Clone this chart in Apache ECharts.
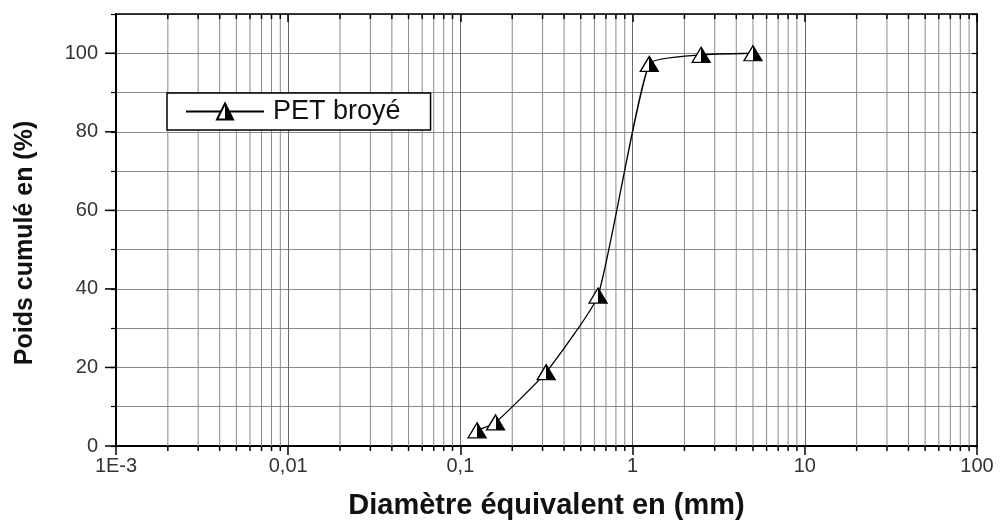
<!DOCTYPE html>
<html>
<head>
<meta charset="utf-8">
<script src="https://cdn.jsdelivr.net/npm/echarts@6/dist/echarts.min.js"></script>
<style>html,body{margin:0;padding:0;background:#fff;}#c{width:1000px;height:520px;}</style>
</head>
<body>
<div id="c"></div>
<script>
// ---- data ----
const seriesName = 'PET broyé';
const diameters = [0.125, 0.16, 0.315, 0.63, 1.25, 2.5, 5];
const cumulative = [4, 6, 18.8, 38.3, 97.3, 99.6, 100];
const xTickLabels = ['1E-3', '0,01', '0,1', '1', '10', '100'];
const decades = [0.001, 0.01, 0.1, 1, 10];
const minorMultipliers = [2, 3, 4, 5, 6, 7, 8, 9];
const yMajorTicks = [0, 20, 40, 60, 80, 100];
const xTitle = 'Diamètre équivalent en (mm)';
const yTitle = 'Poids cumulé en (%)';

const minorX = [];
decades.forEach(d => minorMultipliers.forEach(m => minorX.push([d * m, 0])));
const yMajorData = yMajorTicks.map(v => [0.001, v]);
const points = diameters.map((d, i) => [d, cumulative[i]]);

const FONT = 'Liberation Sans, Arial, sans-serif';
const chart = echarts.init(document.getElementById('c'), null, {renderer: 'canvas'});

const halfFill = new echarts.graphic.LinearGradient(0, 0, 1, 0, [
  {offset: 0, color: '#ffffff'}, {offset: 0.5, color: '#ffffff'},
  {offset: 0.5, color: '#000000'}, {offset: 1, color: '#000000'}
]);

chart.setOption({
  animation: false,
  backgroundColor: '#ffffff',
  grid: {left: 116, right: 23, top: 14, bottom: 74, containLabel: false, outerBoundsMode: 'none'},
  legend: {
    data: [seriesName],
    left: 167, top: 93,
    orient: 'horizontal',
    backgroundColor: '#ffffff',
    borderColor: '#000',
    borderWidth: 1.5,
    borderRadius: 0,
    padding: [5, 30, 5, 18],
    itemWidth: 78,
    itemHeight: 20,
    textStyle: {fontFamily: FONT, fontSize: 27, color: '#111', padding: [0, 0, 0, 4]}
  },
  xAxis: [{
    type: 'log', logBase: 10, min: 0.001, max: 100, position: 'bottom',
    axisLine: {show: true, onZero: false, lineStyle: {color: '#000', width: 2}},
    axisTick: {show: true, inside: false, length: 9, lineStyle: {color: '#000', width: 1.5}},
    axisLabel: {
      fontFamily: FONT, fontSize: 20, color: '#333', margin: 10,
      formatter: v => { const e = Math.round(Math.log10(v)); return xTickLabels[e + 3] || ''; }
    },
    splitLine: {show: true, lineStyle: {color: '#6a6a6a', width: 1}},
    name: xTitle, nameLocation: 'middle', nameGap: 45,
    nameTextStyle: {fontFamily: FONT, fontSize: 29, fontWeight: 'bold', color: '#111'}
  }, {
    type: 'log', logBase: 10, min: 0.001, max: 100, position: 'top',
    axisLine: {show: true, onZero: false, lineStyle: {color: '#000', width: 1.5}},
    axisTick: {show: true, inside: true, length: 8, lineStyle: {color: '#000', width: 1.5}},
    axisLabel: {show: false},
    splitLine: {show: false}
  }],
  yAxis: [{
    type: 'value', min: 0, max: 110, interval: 10, position: 'left',
    axisLine: {show: true, onZero: false, lineStyle: {color: '#000', width: 2}},
    axisTick: {show: true, inside: false, length: 5, lineStyle: {color: '#000', width: 1.2}},
    axisLabel: {
      fontFamily: FONT, fontSize: 20, color: '#333', margin: 18,
      formatter: v => (yMajorTicks.indexOf(v) >= 0 ? String(v) : '')
    },
    splitLine: {show: true, lineStyle: {color: '#8a8a8a', width: 1}},
    name: yTitle, nameLocation: 'middle', nameGap: 78, nameRotate: 90,
    nameTextStyle: {fontFamily: FONT, fontSize: 25, fontWeight: 'bold', color: '#111', padding: [0, 26, 0, 0]}
  }, {
    type: 'value', min: 0, max: 110, interval: 10, position: 'right',
    axisLine: {show: true, onZero: false, lineStyle: {color: '#000', width: 1.5}},
    axisTick: {show: true, inside: true, length: 5, lineStyle: {color: '#000', width: 1.2}},
    axisLabel: {show: false},
    splitLine: {show: false}
  }],
  series: [{
    name: 'xminor', type: 'custom', xAxisIndex: 0, yAxisIndex: 0, silent: true, z: 1,
    data: minorX,
    renderItem: function (params, api) {
      const v = api.value(0);
      const p0 = api.coord([v, 0]);
      const p1 = api.coord([v, 110]);
      return {type: 'group', children: [
        {type: 'line', shape: {x1: p0[0], y1: p0[1], x2: p1[0], y2: p1[1]}, style: {stroke: '#8a8a8a', lineWidth: 1}},
        {type: 'line', shape: {x1: p0[0], y1: p0[1], x2: p0[0], y2: p0[1] + 5}, style: {stroke: '#000', lineWidth: 1.5}},
        {type: 'line', shape: {x1: p1[0], y1: p1[1], x2: p1[0], y2: p1[1] + 5}, style: {stroke: '#000', lineWidth: 1.5}}
      ]};
    }
  }, {
    name: 'ymajor', type: 'custom', xAxisIndex: 0, yAxisIndex: 0, silent: true, z: 3,
    data: yMajorData,
    renderItem: function (params, api) {
      const p = api.coord([api.value(0), api.value(1)]);
      return {type: 'line', shape: {x1: p[0] - 11, y1: p[1], x2: p[0], y2: p[1]}, style: {stroke: '#000', lineWidth: 1.5}};
    }
  }, {
    name: seriesName, type: 'line', xAxisIndex: 0, yAxisIndex: 0, z: 5,
    data: points,
    smooth: 0.15,
    symbol: 'triangle',
    symbolSize: [18, 15],
    lineStyle: {color: '#000', width: 1.3},
    itemStyle: {color: halfFill, borderColor: '#000', borderWidth: 1.3}
  }]
});
</script>
</body>
</html>
